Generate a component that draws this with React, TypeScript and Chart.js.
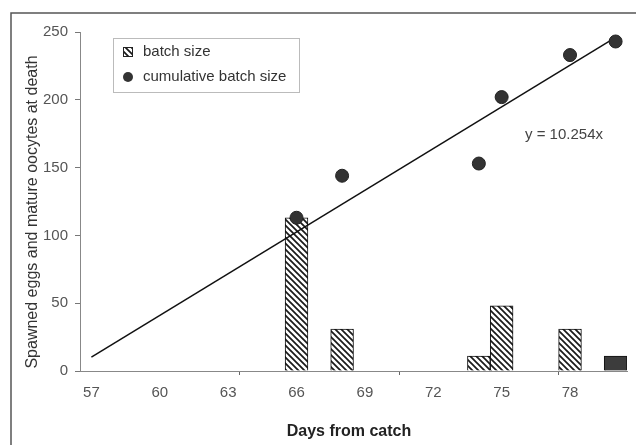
import React, { useEffect, useRef } from "react";
import { Chart, registerables } from "chart.js";

Chart.register(...registerables);

const days = ["57","58","59","60","61","62","63","64","65","66","67","68","69","70","71","72","73","74","75","76","77","78","79","80"];
const batchDays = ["66", "68", "74", "75", "78", "80"];
const batchSize = [113, 31, 11, 48, 31, 11];
const cumulativeBatch = [113, 144, 153, 202, 233, 243];
const trendSlope = 10.254;
const trendDays = ["57", "80"];
const yTicks = [0, 50, 100, 150, 200, 250];
const equationLabel = "y = 10.254x";
const xTitle = "Days from catch";
const yTitle = "Spawned eggs and mature oocytes at death";

function makeHatch(): CanvasPattern | string {
  const c = document.createElement("canvas");
  c.width = 6;
  c.height = 6;
  const g = c.getContext("2d");
  if (!g) return "#ccc";
  g.fillStyle = "#fff";
  g.fillRect(0, 0, 6, 6);
  g.strokeStyle = "#1a1a1a";
  g.lineWidth = 1.7;
  g.beginPath();
  g.moveTo(-1, -1);
  g.lineTo(7, 7);
  g.moveTo(-1, 5);
  g.lineTo(1, 7);
  g.moveTo(5, -1);
  g.lineTo(7, 1);
  g.stroke();
  const p = g.createPattern(c, "repeat");
  return p || "#ccc";
}

export default function App() {
  const ref = useRef<HTMLCanvasElement | null>(null);

  useEffect(() => {
    if (!ref.current) return;
    const hatch = makeHatch();
    const barData = days.map((d) => {
      const i = batchDays.indexOf(d);
      return i >= 0 ? batchSize[i] : null;
    });
    const cumData = days.map((d) => {
      const i = batchDays.indexOf(d);
      return i >= 0 ? cumulativeBatch[i] : null;
    });
    const barColors = days.map((d) => (d === "80" ? "#3c3c3c" : hatch));
    const trendData = trendDays.map((d) => ({ x: d, y: trendSlope * (days.indexOf(d) + 1) }));
    const font = "Liberation Sans, Arial, sans-serif";

    const decor = {
      id: "decor",
      beforeDraw(chart: any) {
        const ctx = chart.ctx;
        ctx.save();
        ctx.fillStyle = "#fff";
        ctx.fillRect(0, 0, chart.width, chart.height);
        ctx.strokeStyle = "#555";
        ctx.lineWidth = 1.5;
        ctx.beginPath();
        ctx.moveTo(11, chart.height);
        ctx.lineTo(11, 13);
        ctx.lineTo(chart.width, 13);
        ctx.stroke();
        ctx.restore();
      },
      afterDraw(chart: any) {
        const ctx = chart.ctx;
        const a = chart.chartArea;
        ctx.save();
        // legend
        const lx = a.left + 33;
        const ly = a.top + 6;
        ctx.setLineDash([1, 1]);
        ctx.strokeStyle = "#777";
        ctx.lineWidth = 1;
        ctx.strokeRect(lx + 0.5, ly + 0.5, 186, 54);
        ctx.setLineDash([]);
        ctx.fillStyle = hatch as any;
        ctx.fillRect(lx + 10, ly + 9, 10, 10);
        ctx.strokeStyle = "#222";
        ctx.strokeRect(lx + 10.5, ly + 9.5, 9, 9);
        ctx.fillStyle = "#333";
        ctx.beginPath();
        ctx.arc(lx + 15, ly + 39, 5, 0, Math.PI * 2);
        ctx.fill();
        ctx.font = "15px " + font;
        ctx.fillStyle = "#333";
        ctx.textBaseline = "middle";
        ctx.textAlign = "left";
        ctx.fillText("batch size", lx + 30, ly + 14);
        ctx.fillText("cumulative batch size", lx + 30, ly + 39);
        // equation
        ctx.fillStyle = "#444";
        ctx.fillText(equationLabel, a.left + 445, a.top + 103);
        // axis titles
        ctx.textAlign = "center";
        ctx.fillStyle = "#222";
        ctx.font = "bold 16px " + font;
        ctx.fillText(xTitle, a.left + 269, chart.height - 13);
        ctx.translate(33, a.top + 180);
        ctx.rotate(-Math.PI / 2);
        ctx.fillStyle = "#333";
        ctx.font = "16px " + font;
        ctx.fillText(yTitle, 0, 0);
        ctx.restore();
      },
    };

    const chart = new Chart(ref.current, {
      type: "bar",
      data: {
        labels: days,
        datasets: [
          {
            type: "line",
            label: "cumulative batch size",
            data: cumData as any,
            showLine: false,
            pointRadius: 6.5,
            pointHoverRadius: 6.5,
            pointBackgroundColor: "#333",
            pointBorderColor: "#222",
            pointBorderWidth: 1,
            order: 0,
          } as any,
          {
            type: "line",
            label: "trend",
            data: trendData as any,
            borderColor: "#111",
            borderWidth: 1.5,
            pointRadius: 0,
            order: 1,
          } as any,
          {
            type: "bar",
            label: "batch size",
            data: barData as any,
            backgroundColor: barColors as any,
            borderColor: "#111",
            borderWidth: 1,
            categoryPercentage: 1,
            barPercentage: 1,
            order: 2,
          } as any,
        ],
      },
      options: {
        responsive: false,
        animation: false,
        layout: { padding: { left: 19, top: 32, right: 9, bottom: 0 } },
        plugins: { legend: { display: false }, tooltip: { enabled: false } },
        scales: {
          x: {
            afterFit: (s: any) => {
              s.height = 74;
            },
            grid: {
              display: true,
              drawOnChartArea: false,
              drawTicks: true,
              tickLength: 4,
              color: (ctx: any) =>
                ctx.index > 0 && ctx.index < days.length && ctx.index % 7 === 0 ? "#666" : "rgba(0,0,0,0)",
            },
            border: { display: true, color: "#888", width: 1 },
            ticks: {
              autoSkip: false,
              maxRotation: 0,
              padding: 9,
              color: "#555",
              font: { family: font, size: 15 },
              callback: (_v: any, i: number) => (i % 3 === 0 ? days[i] : ""),
            },
          },
          y: {
            min: yTicks[0],
            max: yTicks[yTicks.length - 1],
            afterFit: (s: any) => {
              s.width = 80 - 19;
            },
            afterBuildTicks: (s: any) => {
              s.ticks = yTicks.map((v) => ({ value: v }));
            },
            grid: {
              display: true,
              drawOnChartArea: false,
              drawTicks: true,
              tickLength: 5,
              color: "#777",
            },
            border: { display: true, color: "#888", width: 1 },
            ticks: {
              padding: 7,
              color: "#555",
              font: { family: font, size: 15 },
            },
          },
        },
      },
      plugins: [decor],
    });
    return () => chart.destroy();
  }, []);

  return (
    <div style={{ position: "absolute", left: 0, top: 0, width: 636, height: 445 }}>
      <canvas ref={ref} width={636} height={445} style={{ display: "block" }} />
    </div>
  );
}
